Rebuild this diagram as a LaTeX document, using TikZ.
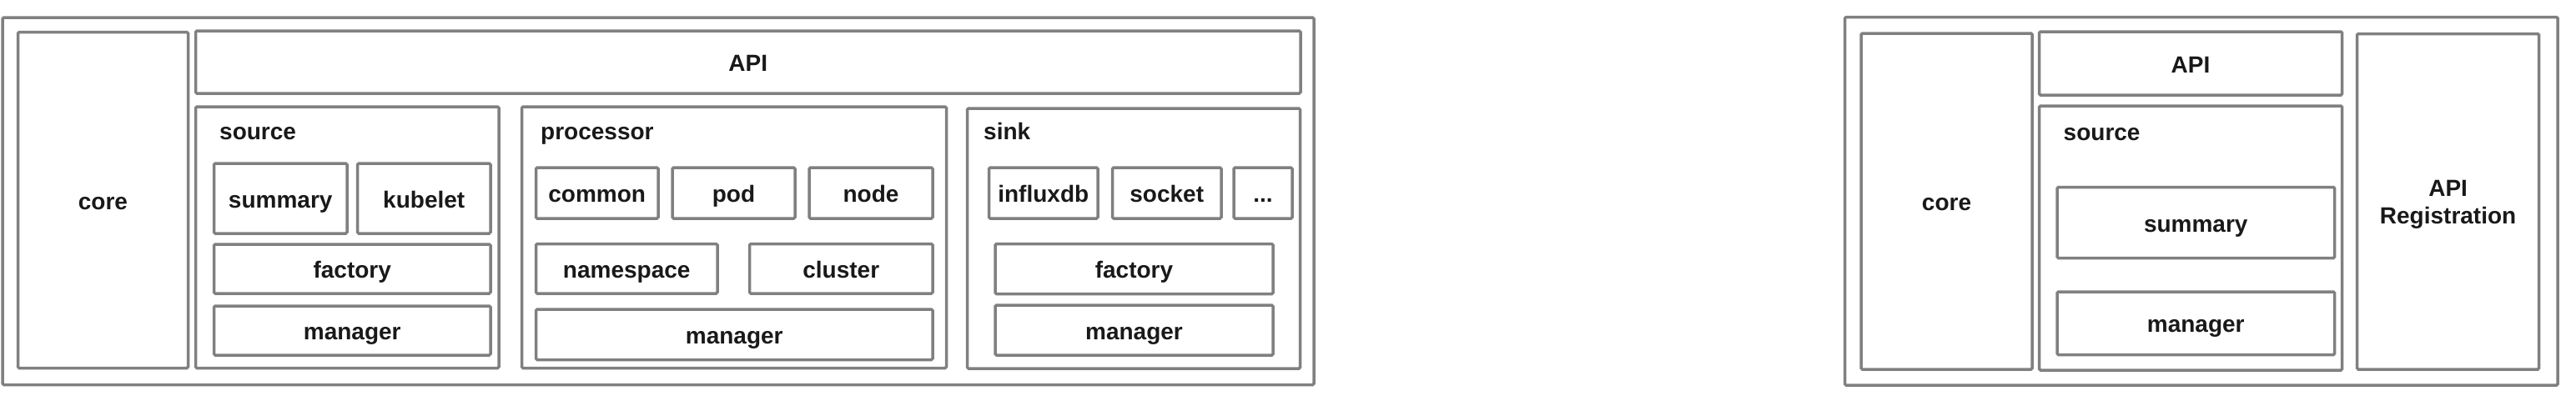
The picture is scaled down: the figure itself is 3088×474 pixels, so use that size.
\documentclass[tikz,border=0pt]{standalone}
\usepackage{fontspec}
\setmainfont{Liberation Sans}
\usetikzlibrary{fit}
\definecolor{linec}{RGB}{128,128,128}
\definecolor{txtc}{RGB}{25,25,25}
\tikzset{
  box/.style={draw=linec, line width=3.5pt, inner sep=0pt, outer sep=0pt, rounded corners=1.5pt},
  lbl/.style={text=txtc, font=\fontsize{28}{33}\selectfont\bfseries, inner sep=0pt, anchor=base},
  title/.style={lbl, anchor=base west}
}
\newcommand\bx[6]{%
  \node[box, fit={(#2,#3) (#4,#5)}] (#1) {};
  \node[lbl, yshift=-11pt] (#1-t) at (#1.center) {#6};}
\newcommand\frm[5]{%
  \node[box, fit={(#2,#3) (#4,#5)}] (#1) {};}
\begin{document}
\begin{tikzpicture}[x=1pt, y=-1pt]
\useasboundingbox (0,0) rectangle (3088,474);
% ---------- left diagram ----------
\frm{outerA}{3}{21}{1575}{461.5}
\bx{coreA}{21.5}{38.5}{225.5}{441.5}{core}
\bx{apiA}{234.5}{37}{1559}{112}{API}
\frm{srcA}{234.5}{128}{598}{441.5}
\node[title] (srcAt) at (263,167) {source};
\bx{summA}{256.5}{196}{416}{280}{summary}
\bx{kubA}{428.5}{196}{588}{280}{kubelet}
\bx{facA}{256.5}{293}{588}{352}{factory}
\bx{manA}{256.5}{367}{588}{426}{manager}
\frm{procA}{625.5}{128}{1134.5}{441.5}
\node[title] (procAt) at (648,167) {processor};
\bx{comA}{642.5}{201}{789}{262}{common}
\bx{podA}{806}{201}{953}{262}{pod}
\bx{nodeA}{970}{201}{1118}{262}{node}
\bx{nsA}{642.5}{292.5}{860}{352}{namespace}
\bx{cluA}{898.5}{292.5}{1118}{352}{cluster}
\bx{pmanA}{642.5}{371}{1118}{431.5}{manager}
\frm{sinkA}{1159.5}{130}{1558.5}{442}
\node[title] (sinkAt) at (1179,167) {sink};
\bx{infA}{1185.5}{201}{1316}{262}{influxdb}
\bx{sockA}{1333.5}{201}{1464}{262}{socket}
\bx{dotsA}{1479}{201}{1549}{262}{...}
\bx{sfacA}{1193}{292.5}{1526}{352.5}{factory}
\bx{smanA}{1193}{366}{1526}{426}{manager}
% ---------- right diagram ----------
\frm{outerB}{2211.5}{20.5}{3066}{462}
\bx{coreB}{2231}{40}{2436}{443}{core}
\bx{apiB}{2444.5}{38}{2807.5}{114}{API}
\frm{srcB}{2444.5}{127}{2807.5}{444}
\node[title] (srcBt) at (2473.5,168) {source};
\bx{summB}{2466}{224.5}{2798.5}{309.5}{summary}
\bx{manB}{2466}{350}{2798.5}{425.5}{manager}
\frm{regB}{2825.5}{40.5}{3043.5}{443}
\node[lbl] (regBt1) at (2934.6,235) {API};
\node[lbl] (regBt2) at (2934.6,268) {Registration};
\end{tikzpicture}
\end{document}
